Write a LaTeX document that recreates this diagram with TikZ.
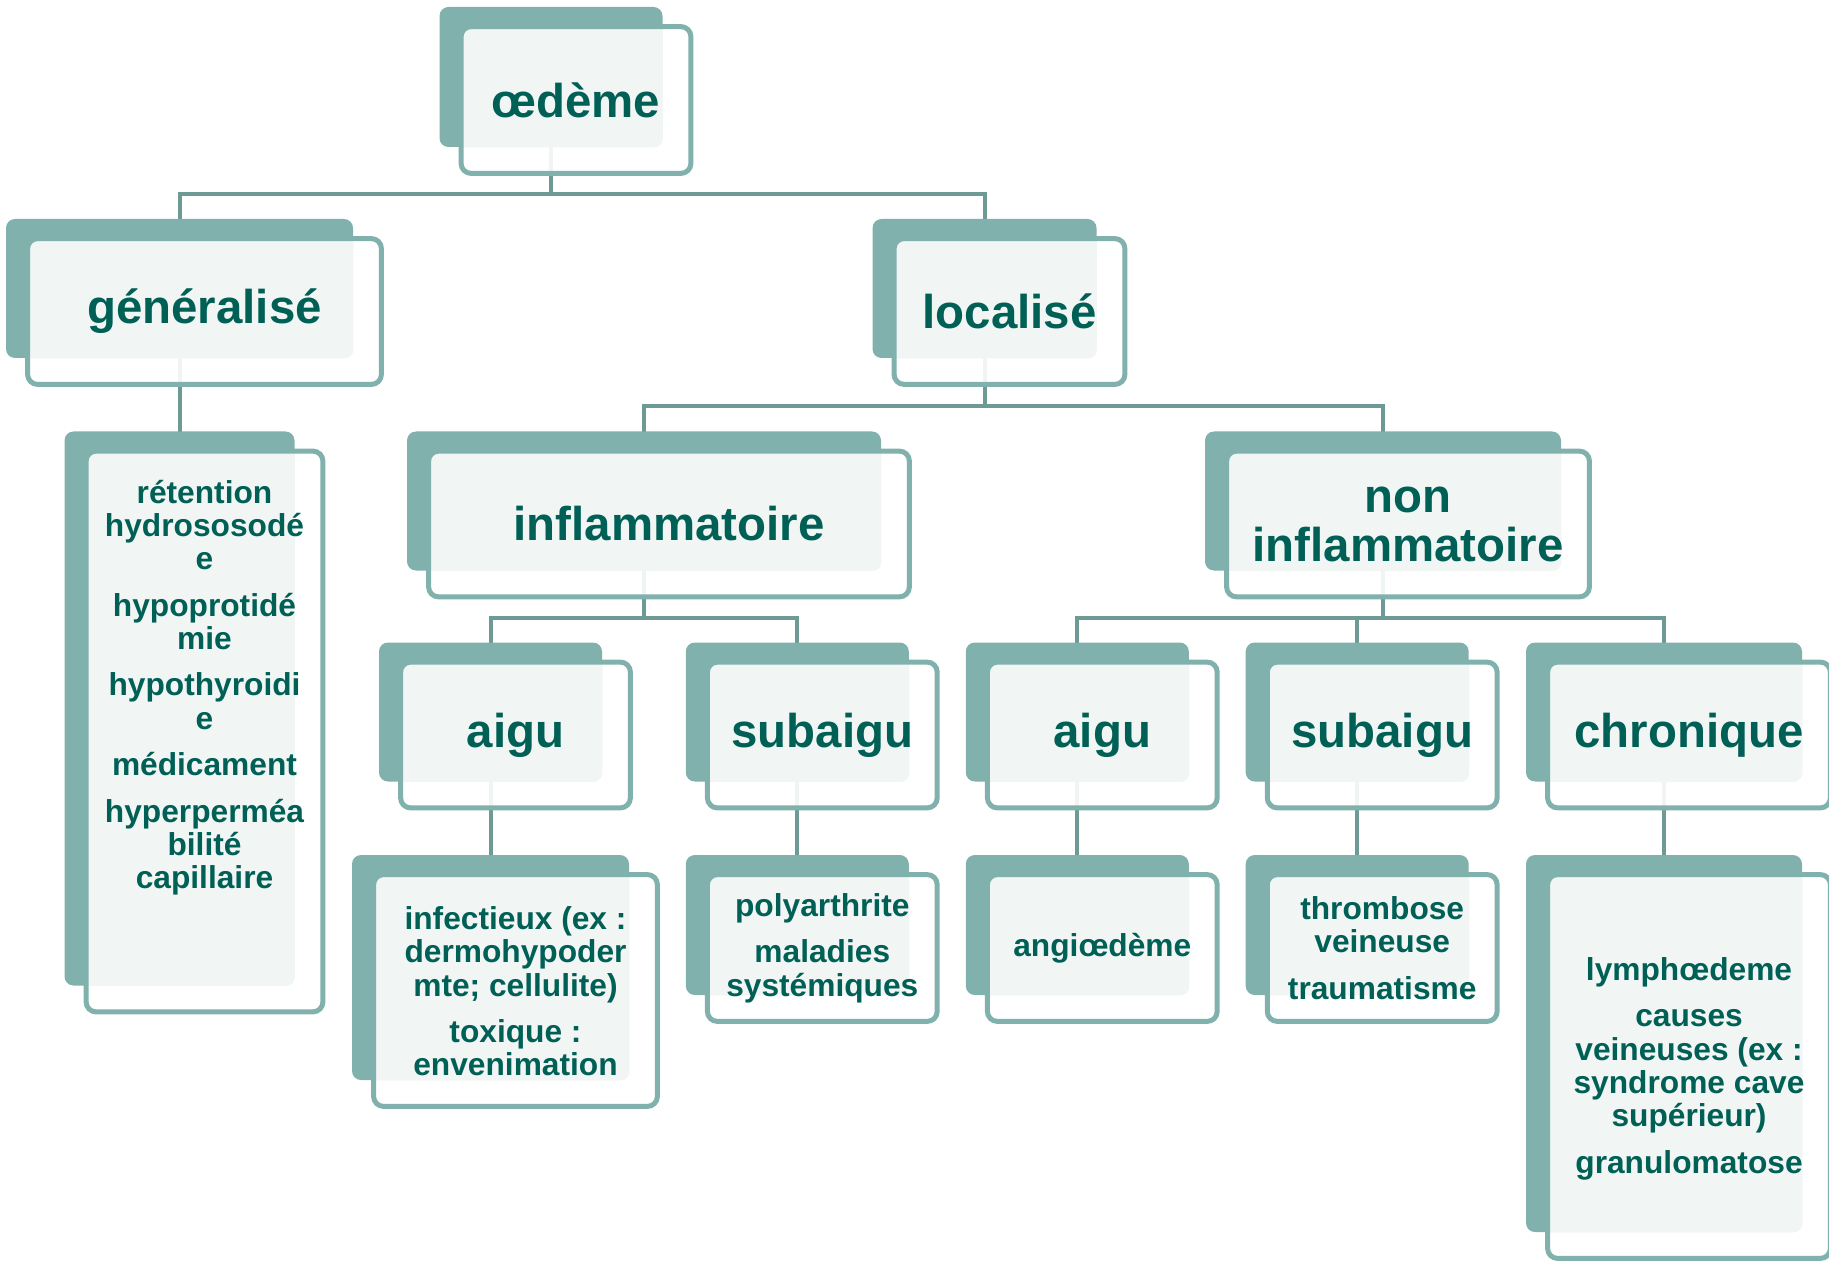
\documentclass[tikz,border=0pt]{standalone}
\usepackage{fontspec}
\setmainfont{Liberation Sans}
\usetikzlibrary{calc,backgrounds}

\definecolor{sarcelle}{HTML}{80B1AC}
\definecolor{sarcelleF}{HTML}{006056}
\definecolor{trait}{HTML}{6E9A95}
\definecolor{pale}{HTML}{F1F5F4}

\begin{document}
\begin{tikzpicture}[x=0.5pt,y=-0.5pt,
	fond/.style={fill=sarcelle, rounded corners=4.5pt, inner sep=0pt},
	titre/.style={text=sarcelleF, font=\fontsize{23.7}{24.5}\selectfont\bfseries, align=center},
	liste/.style={text=sarcelleF, font=\fontsize{15.85}{16.6}\selectfont\bfseries, align=center},
	lien/.style={draw=trait, line width=2pt}]
	
	\useasboundingbox (0,0) rectangle (1829,1261);
	
	% back boxes
	\node[fond, minimum width=111.5pt, minimum height=70pt] (oed) at (551,77) {};
	\node[fond, minimum width=173.5pt, minimum height=69.5pt] (gen) at (179.5,288.5) {};
	\node[fond, minimum width=112pt, minimum height=69.5pt] (loc) at (984.5,288.5) {};
	\node[fond, minimum width=115pt, minimum height=277pt] (genl) at (179.5,708.5) {};
	\node[fond, minimum width=237pt, minimum height=69.5pt] (infl) at (644,501) {};
	\node[fond, minimum width=178pt, minimum height=69.5pt] (ninf) at (1383,501) {};
	\node[fond, minimum width=111.5pt, minimum height=69.5pt] (aig1) at (490.5,712) {};
	\node[fond, minimum width=111.5pt, minimum height=69.5pt] (sub1) at (797.3,712) {};
	\node[fond, minimum width=111.5pt, minimum height=69.5pt] (aig2) at (1077.3,712) {};
	\node[fond, minimum width=111.5pt, minimum height=69.5pt] (sub2) at (1357.2,712) {};
	\node[fond, minimum width=138pt, minimum height=69.5pt] (chro) at (1664,712) {};
	\node[fond, minimum width=138.5pt, minimum height=112.5pt] (infe) at (490.5,967.5) {};
	\node[fond, minimum width=111.5pt, minimum height=70pt] (poly) at (797.3,925) {};
	\node[fond, minimum width=111.5pt, minimum height=70pt] (angi) at (1077.3,925) {};
	\node[fond, minimum width=111.5pt, minimum height=70pt] (thro) at (1357.2,925) {};
	\node[fond, minimum width=138pt, minimum height=188.5pt] (lymp) at (1664,1043.5) {};
	
	% front boxes
	\foreach \n in {oed,gen,loc,genl,infl,ninf,aig1,sub1,aig2,sub2,chro,infe,poly,angi,thro,lymp}{
		\fill[white, fill opacity=0.9, rounded corners=5pt] ($(\n.north west)+(22,20)$) rectangle ($(\n.south east)+(28,26)$);
		\begin{scope}
			\clip[rounded corners=4.5pt] (\n.north west) rectangle (\n.south east);
			\fill[pale, rounded corners=5pt] ($(\n.north west)+(22,20)$) rectangle ($(\n.south east)+(28,26)$);
		\end{scope}
		\draw[sarcelle, line width=2.5pt, rounded corners=5pt] ($(\n.north west)+(22,20)$) rectangle ($(\n.south east)+(28,26)$);
	}
	
	\node[titre] (t0) at ($(oed)+(25,23)$) {œdème};
	\node[titre] (t1) at ($(gen)+(25,23)$) {généralisé};
	\node[titre] (t2) at ($(loc)+(25,23)$) {localisé};
	\node[titre] (t3) at ($(infl)+(25,23)$) {inflammatoire};
	\node[titre] (t4) at ($(ninf)+(25,23)$) {non\\inflammatoire};
	\node[titre] (t5) at ($(aig1)+(25,23)$) {aigu};
	\node[titre] (t6) at ($(sub1)+(25,23)$) {subaigu};
	\node[titre] (t7) at ($(aig2)+(25,23)$) {aigu};
	\node[titre] (t8) at ($(sub2)+(25,23)$) {subaigu};
	\node[titre] (t9) at ($(chro)+(25,23)$) {chronique};
	
	\node[liste] (l1) at ($(genl)+(25,-21)$) {rétention\\hydrososodé\\e\\[6.7pt]hypoprotidé\\mie\\[6.7pt]hypothyroidi\\e\\[6.7pt]médicament\\[6.7pt]hyperperméa\\bilité\\capillaire};
	\node[liste] (l2) at ($(infe)+(25,24)$) {infectieux (ex :\\dermohypoder\\mte; cellulite)\\[6.7pt]toxique :\\envenimation};
	\node[liste] (l3) at ($(poly)+(25,23)$) {polyarthrite\\[6.7pt]maladies\\systémiques};
	\node[liste] (l4) at ($(angi)+(25,23)$) {angiœdème};
	\node[liste] (l5) at ($(thro)+(25,23)$) {thrombose\\veineuse\\[6.7pt]traumatisme};
	\node[liste] (l6) at ($(lymp)+(25,25)$) {lymphœdeme\\[6.7pt]causes\\veineuses (ex :\\syndrome cave\\supérieur)\\[6.7pt]granulomatose};
	
	% connectors
	\begin{scope}[on background layer]
		\draw[lien] (oed.center) |- ($(oed.south)!0.66!(gen.north)$) -| (gen.center);
		\draw[lien] (oed.center) |- ($(oed.south)!0.66!(loc.north)$) -| (loc.center);
		\draw[lien] (gen.center) -- (genl.center);
		\draw[lien] (loc.center) |- ($(loc.south)!0.66!(infl.north)$) -| (infl.center);
		\draw[lien] (loc.center) |- ($(loc.south)!0.66!(ninf.north)$) -| (ninf.center);
		\draw[lien] (infl.center) |- ($(infl.south)!0.66!(aig1.north)$) -| (aig1.center);
		\draw[lien] (infl.center) |- ($(infl.south)!0.66!(sub1.north)$) -| (sub1.center);
		\draw[lien] (ninf.center) |- ($(ninf.south)!0.66!(aig2.north)$) -| (aig2.center);
		\draw[lien] (ninf.center) |- ($(ninf.south)!0.66!(sub2.north)$) -| (sub2.center);
		\draw[lien] (ninf.center) |- ($(ninf.south)!0.66!(chro.north)$) -| (chro.center);
		\draw[lien] (aig1.center) -- (infe.center);
		\draw[lien] (sub1.center) -- (poly.center);
		\draw[lien] (aig2.center) -- (angi.center);
		\draw[lien] (sub2.center) -- (thro.center);
		\draw[lien] (chro.center) -- (lymp.center);
	\end{scope}
	
\end{tikzpicture}
\end{document}
